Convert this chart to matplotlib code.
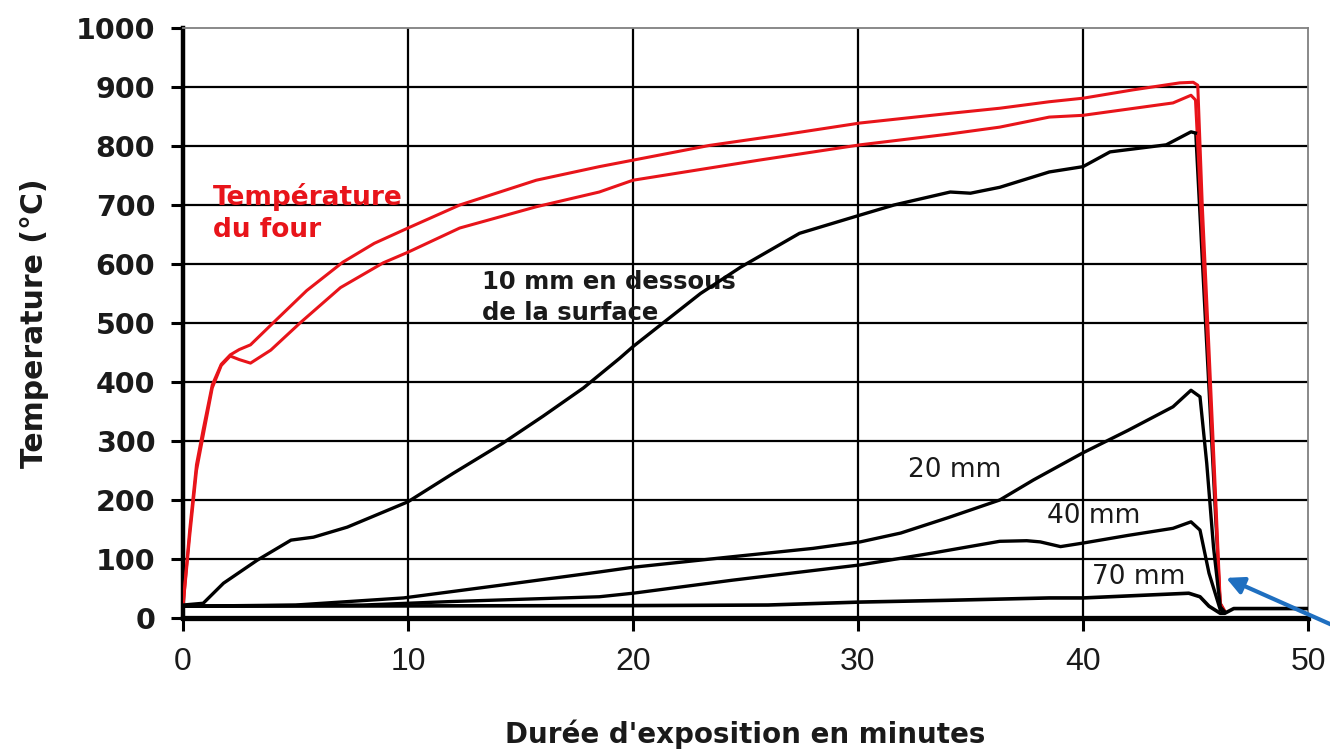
import matplotlib
matplotlib.use("Agg")
import matplotlib.pyplot as plt
from matplotlib.ticker import FixedLocator

# ---------------- data (minutes, °C) ----------------
oven_upper_t = [0, 0.3, 0.6, 0.9, 1.3, 1.7, 2.1, 2.5, 3.0, 4.0, 5.5, 7.1, 8.5, 10, 12.3, 15.7,
                18.5, 20, 23.4, 26.5, 30.1, 34, 36.3, 38.5, 40, 42.2, 44.3, 44.9, 45.1,
                45.3, 45.6, 45.9, 46.1, 46.3]
oven_upper_v = [20, 150, 260, 320, 395, 430, 446, 455, 463, 500, 555, 603, 635, 661, 700, 742,
                765, 776, 801, 818, 839, 855, 864, 875, 881, 895, 907, 908, 903,
                700, 454, 200, 25, 12]

oven_lower_t = [0, 0.3, 0.6, 0.9, 1.3, 1.7, 2.1, 2.5, 3.0, 3.9, 5.2, 7.0, 8.9, 10, 12.3, 15.7,
                18.5, 20, 25.6, 30.1, 34, 36.3, 38.5, 40, 44, 44.8, 45.0,
                45.3, 45.6, 45.9, 46.1, 46.3]
oven_lower_v = [20, 140, 250, 310, 390, 428, 444, 438, 432, 454, 500, 560, 602, 620, 661, 697,
                722, 742, 776, 802, 820, 832, 849, 852, 873, 886, 878,
                650, 420, 180, 20, 10]

mm10_t = [0, 0.9, 1.8, 3.3, 4.8, 5.8, 7.3, 10, 12, 14.2, 16, 17.8, 19.4, 20, 21.5, 23, 24.8,
          27.4, 30.1, 31.6, 34.1, 35, 36.3, 38.5, 40, 41.2, 43.7, 44.8, 45.0,
          45.3, 45.6, 45.9, 46.1, 46.3]
mm10_v = [22, 25, 59, 98, 132, 137, 154, 197, 245, 296, 342, 390, 440, 460, 505, 550, 595,
          652, 683, 700, 722, 720, 730, 756, 765, 790, 802, 824, 822,
          600, 380, 160, 25, 10]

mm20_t = [0, 5, 9.8, 14, 18.5, 20, 24.2, 28, 30.1, 31.9, 34, 36.3, 37.8, 40, 42, 44, 44.8,
          45.2, 45.5, 45.8, 46.1, 46.3]
mm20_v = [20, 22, 34, 55, 78, 86, 103, 118, 129, 144, 170, 200, 234, 280, 318, 358, 386,
          375, 262, 120, 19, 10]

mm40_t = [0, 8, 12, 18.5, 20, 24.4, 30.1, 33.3, 36.3, 37.5, 38.1, 39, 40, 42, 44, 44.8,
          45.2, 45.6, 46.1, 46.3]
mm40_v = [20, 22, 28, 36, 42, 64, 90, 110, 130, 131, 129, 121, 127, 140, 152, 163,
          149, 76, 14, 10]

mm70_t = [0, 20, 26, 30.1, 34, 38.5, 40, 44.7, 45.2, 45.6, 46.1, 46.3, 46.7, 50]
mm70_v = [20, 21, 22, 27, 30, 34, 34, 42, 36, 20, 8, 8, 16, 16]

x_ticks = [0, 10, 20, 30, 40, 50]
y_ticks = [0, 100, 200, 300, 400, 500, 600, 700, 800, 900, 1000]

RED = "#e8141a"
TXT = "#1a1a1a"

fig = plt.figure(figsize=(13.30, 7.49), dpi=100)
ax = fig.add_axes([183 / 1330, (749 - 618) / 749, (1308 - 183) / 1330, (618 - 28) / 749])

ax.set_xlim(0, 50)
ax.set_ylim(0, 1000)

# grid
for xv in x_ticks[1:-1]:
    ax.axvline(xv, color="black", lw=1.6, zorder=1)
for yv in y_ticks[1:-1]:
    ax.axhline(yv, color="black", lw=1.6, zorder=1)

# curves
ax.plot(oven_lower_t, oven_lower_v, color=RED, lw=2.2, zorder=3)
ax.plot(oven_upper_t, oven_upper_v, color=RED, lw=2.2, zorder=3)
ax.plot(mm70_t, mm70_v, color="black", lw=2.6, zorder=4)
ax.plot(mm40_t, mm40_v, color="black", lw=2.4, zorder=4)
ax.plot(mm20_t, mm20_v, color="black", lw=2.4, zorder=4)
ax.plot(mm10_t[:-5], mm10_v[:-5], color="black", lw=2.4, zorder=4)
ax.plot(mm10_t[-6:], mm10_v[-6:], color="black", lw=2.0, zorder=2)

# spines
ax.spines["left"].set_linewidth(3.2)
ax.spines["bottom"].set_linewidth(3.8)
ax.spines["left"].set_color("black")
ax.spines["bottom"].set_color("black")
for s in ("top", "right"):
    ax.spines[s].set_color("#808080")
    ax.spines[s].set_linewidth(1.3)

ax.xaxis.set_major_locator(FixedLocator(x_ticks))
ax.yaxis.set_major_locator(FixedLocator(y_ticks))
ax.set_xticklabels([str(v) for v in x_ticks],
                   family=["Liberation Sans Narrow", "Liberation Sans"], fontsize=23, color=TXT)
ax.set_yticklabels([str(v) for v in y_ticks],
                   family="DejaVu Sans", fontweight="bold", fontsize=20.5, color=TXT)
ax.tick_params(axis="x", direction="out", length=9, width=2.2, pad=12)
ax.tick_params(axis="y", direction="out", length=9, width=2.2, pad=11)

ax.set_xlabel("Durée d'exposition en minutes", family="DejaVu Sans", fontweight="bold",
              fontsize=20, color=TXT)
ax.xaxis.set_label_coords(0.5, -0.172)
ax.set_ylabel("Temperature (°C)", family="DejaVu Sans", fontweight="bold",
              fontsize=21.5, color=TXT)
ax.yaxis.set_label_coords(-0.119, 0.5)

# annotations
ax.text(1.33, 713, "Température", color=RED, family="DejaVu Sans", fontweight="bold",
        fontsize=19, ha="left", va="center", zorder=5)
ax.text(1.33, 658, "du four", color=RED, family="DejaVu Sans", fontweight="bold",
        fontsize=19, ha="left", va="center", zorder=5)
ax.text(13.3, 570, "10 mm en dessous", color=TXT, family="DejaVu Sans", fontweight="bold",
        fontsize=17.5, ha="left", va="center", zorder=2)
ax.text(13.3, 517, "de la surface", color=TXT, family="DejaVu Sans", fontweight="bold",
        fontsize=17.5, ha="left", va="center", zorder=2)
ax.text(32.2, 251, "20 mm", color=TXT, family="DejaVu Sans", fontsize=19,
        ha="left", va="center", zorder=2)
ax.text(38.4, 173, "40 mm", color=TXT, family="DejaVu Sans", fontsize=19,
        ha="left", va="center", zorder=2)
ax.text(40.4, 70, "70 mm", color=TXT, family="DejaVu Sans", fontsize=19,
        ha="left", va="center", zorder=2)

ax.annotate("", xy=(46.36, 68), xytext=(51.2, -14), annotation_clip=False,
            arrowprops=dict(arrowstyle="-|>", color="#1f6fc0", lw=3,
                            mutation_scale=26, shrinkA=0, shrinkB=0), zorder=6)

fig.savefig("out.png", dpi=100)
